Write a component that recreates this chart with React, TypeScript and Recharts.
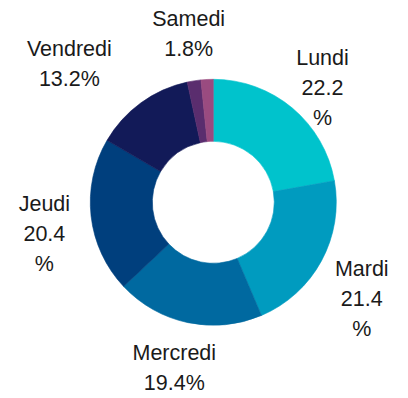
import { Cell, Pie, PieChart } from "recharts";

const days = ["Lundi", "Mardi", "Mercredi", "Jeudi", "Vendredi", "Samedi", "Dimanche"];
const shares = [22.2, 21.4, 19.4, 20.4, 13.2, 1.8, 1.6];
const colors = ["#00c3cc", "#009bbf", "#0069a0", "#003f7d", "#121a58", "#5a2d6e", "#9a4b80"];
// labels where the "%" falls onto its own line in the original
const splitPercent = ["Lundi", "Mardi", "Jeudi"];
const hiddenLabels = ["Dimanche"];

const data = days.map((d, i) => ({ name: d, value: shares[i] }));

// label placement: radius from center, plus small nudges to follow the reference
const LABEL_R = 170;
const nudge: Record<string, [number, number]> = {
  Lundi: [0, 15],
  Mardi: [-1, 15],
  Mercredi: [-4, -1],
  Jeudi: [0, 12],
  Vendredi: [-44, -1],
  Samedi: [2, -1],
};
const LINE_H = 30;
const RAD = Math.PI / 180;

function DayLabel(props: any) {
  const { cx, cy, midAngle, name, value } = props;
  if (hiddenLabels.includes(name)) return null;
  const [dx, dy] = nudge[name] ?? [0, 0];
  const x = cx + LABEL_R * Math.cos(-midAngle * RAD) + dx;
  const y = cy + LABEL_R * Math.sin(-midAngle * RAD) + dy;
  const lines = splitPercent.includes(name)
    ? [name, value.toFixed(1), "%"]
    : [name, `${value.toFixed(1)}%`];
  const first = y - ((lines.length - 1) * LINE_H) / 2 + 7.7;
  return (
    <text
      x={x}
      y={first}
      textAnchor="middle"
      fill="#1a1a1a"
      style={{ fontFamily: "'Liberation Sans', Arial, sans-serif", fontSize: 21.5 }}
    >
      {lines.map((l, i) => (
        <tspan key={i} x={x} y={first + i * LINE_H}>
          {l}
        </tspan>
      ))}
    </text>
  );
}

export default function App() {
  return (
    <div style={{ position: "absolute", left: 0, top: 0, background: "#fff" }}>
      <PieChart width={408} height={398} margin={{ top: 0, right: 0, bottom: 0, left: 0 }}>
        <Pie
          data={data}
          dataKey="value"
          nameKey="name"
          cx={213.3}
          cy={202.3}
          innerRadius={61}
          outerRadius={123}
          startAngle={90}
          endAngle={-270}
          label={DayLabel}
          labelLine={false}
          isAnimationActive={false}
        >
          {data.map((d, i) => (
            <Cell key={d.name} fill={colors[i]} stroke={colors[i]} strokeWidth={0.6} />
          ))}
        </Pie>
      </PieChart>
    </div>
  );
}
